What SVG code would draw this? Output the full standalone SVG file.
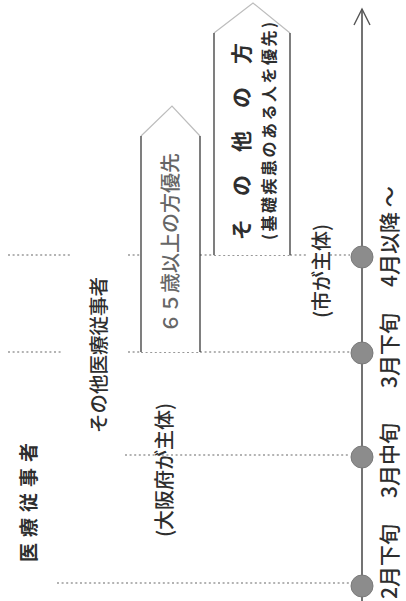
<svg xmlns="http://www.w3.org/2000/svg" width="406" height="601" viewBox="0 0 406 601">
<style>
text{font-family:"Noto Sans CJK JP","Noto Sans",sans-serif;dominant-baseline:central;fill:#2e2e2e;font-weight:500}
.dot{stroke:#9a9a9a;stroke-width:1.4;stroke-dasharray:2 2.6;fill:none}
.side{stroke:#3a3a3a;stroke-width:1.3;fill:none}
.tip{stroke:#bdbdbd;stroke-width:1.2;fill:none}
.ms{fill:#8c8c8c;stroke:#7a7a7a;stroke-width:1}
.date{font-size:21px}
</style>
<rect width="406" height="601" fill="#ffffff"/>
<g id="connectors">
<line x1="362" y1="9" x2="362" y2="601" stroke="#444" stroke-width="1.5"/>
<polyline points="354,25 362,9 370,25" fill="none" stroke="#555" stroke-width="1.4"/>
<line class="dot" x1="8" y1="255" x2="72" y2="255"/>
<line class="dot" x1="128" y1="255" x2="141" y2="255"/>
<line class="dot" x1="200" y1="255" x2="214" y2="255"/>
<line class="dot" x1="214" y1="255" x2="290" y2="255" style="stroke:#777"/>
<line class="dot" x1="290" y1="255" x2="306" y2="255"/>
<line class="dot" x1="330" y1="255" x2="350" y2="255"/>
<line class="dot" x1="8" y1="352" x2="62" y2="352"/>
<line class="dot" x1="128" y1="352" x2="141" y2="352"/>
<line class="dot" x1="141" y1="352" x2="200" y2="352" style="stroke:#777"/>
<line class="dot" x1="200" y1="352" x2="350" y2="352"/>
<line class="dot" x1="125" y1="455" x2="350" y2="455"/>
<line class="dot" x1="57" y1="583" x2="350" y2="583"/>
</g>
<g id="milestone-apr">
<circle class="ms" cx="362" cy="257" r="11"/>
<text class="date" transform="translate(388,287) rotate(-90)">4月以降 ～</text>
</g>
<g id="milestone-mar-late">
<circle class="ms" cx="362" cy="353" r="11"/>
<text class="date" transform="translate(388,388) rotate(-90)">3月下旬</text>
</g>
<g id="milestone-mar-mid">
<circle class="ms" cx="362" cy="457" r="11"/>
<text class="date" transform="translate(388,498) rotate(-90)">3月中旬</text>
</g>
<g id="milestone-feb-late">
<circle class="ms" cx="362" cy="586" r="11"/>
<text class="date" transform="translate(388,599) rotate(-90)">2月下旬</text>
</g>
<g id="medical-workers">
<text transform="translate(27,562) rotate(-90)" style="font-size:19px;font-weight:bold;letter-spacing:6px">医療従事者</text>
</g>
<g id="other-medical-workers">
<text transform="translate(97,433) rotate(-90)" style="font-size:19.5px">その他医療従事者</text>
</g>
<g id="osaka-lead">
<text transform="translate(163,537) rotate(-90)" style="font-size:20px">(大阪府が主体)</text>
</g>
<g id="city-lead">
<text transform="translate(320,318) rotate(-90)" style="font-size:20px">(市が主体)</text>
</g>
<g id="elderly">
<rect x="141" y="136" width="59" height="216" fill="#fff"/>
<polyline class="tip" points="141,136 172,106 200,136"/>
<line class="side" x1="141" y1="136" x2="141" y2="352"/>
<line class="side" x1="200" y1="136" x2="200" y2="352"/>
<text transform="translate(169,333) rotate(-90)" style="font-size:20px;fill:#666">６５歳以上の方優先</text>
</g>
<g id="others">
<rect x="214" y="33" width="76" height="222" fill="#fff"/>
<polyline class="tip" points="214,33 253,3 290,33"/>
<line class="side" x1="214" y1="33" x2="214" y2="255"/>
<line class="side" x1="290" y1="33" x2="290" y2="255"/>
<text transform="translate(240,240) rotate(-90)" style="font-size:21px;font-weight:bold;letter-spacing:23px">その他の方</text>
<text transform="translate(268,240) rotate(-90)" style="font-size:16px;font-weight:bold;letter-spacing:2.5px">(基礎疾患のある人を優先)</text>
</g>
</svg>
